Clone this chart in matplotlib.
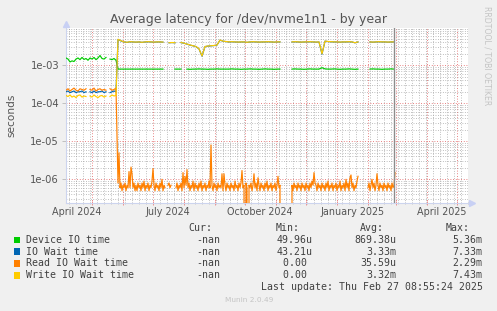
import numpy as np
import matplotlib
matplotlib.use('Agg')
import matplotlib.pyplot as plt
import matplotlib.dates as mdates
from matplotlib.patches import Rectangle
from matplotlib.ticker import FixedLocator, FixedFormatter, NullFormatter
import matplotlib.transforms as mtransforms

nan = np.nan
W, H = 497, 311

# ---------------- data ----------------
base_date = np.datetime64('2024-04-01')
view_start_day = 4      # Apr 5 2024
view_end_day = 406      # May 12 2025
now_day = 332           # Feb 27 2025

# early period: every 2 days starting at day 4
early_start_day, early_step = 4, 2
device_early_ms = [1.55, 1.45, 1.22, 1.3, 1.25, 1.45, 1.55, 1.4, 1.6, 1.42, 1.5, 1.35, 1.55,
                   1.45, 1.6, 1.4, 1.55, 1.8, 1.5, 1.45, 1.6, nan, 1.45, 1.4, 1.5, 1.35]
iowait_early_ms = [0.20, 0.21, 0.19, 0.20, 0.21, 0.19, 0.20, 0.20, 0.21, 0.19, 0.20, nan, 0.20,
                   0.19, 0.21, 0.19, 0.20, 0.20, 0.21, 0.19, 0.20, nan, 0.19, 0.20, 0.21, 0.20]
read_early_ms = [0.22, 0.24, 0.21, 0.23, 0.25, 0.22, 0.21, 0.24, 0.23, 0.22, 0.24, nan, 0.23,
                 0.22, 0.25, 0.21, 0.23, 0.24, 0.22, 0.23, 0.22, nan, 0.24, 0.22, 0.23, 0.25]
write_early_ms = [0.16, 0.15, 0.165, 0.145, 0.155, 0.14, 0.16, 0.165, 0.145, 0.155, 0.15, nan, 0.155,
                  0.145, 0.165, 0.15, 0.14, 0.155, 0.16, 0.145, 0.155, nan, 0.15, 0.165, 0.155, 0.16]

# late period: every 3 days starting at day 56
late_start_day, late_step = 56, 3
write_late_ms = [4.8, 4.4, 4.1, 4.0, 4.15, 4.1, 4.05, 4.1, 4.0, 4.1, 4.15, 4.1, 4.05, 4.1, 4.1, 4.05,
                 nan, 3.9, 3.95, 3.9, nan,
                 3.95, 3.8, 3.6, 3.4, 3.25, 3.1, 2.7, 1.75, 3.1, 3.2, 3.25, 3.3, 3.4, 4.6, 4.3, 4.2,
                 4.1, 4.15, 4.1, 4.05, 4.1, 4.1, 4.0, 4.1, 4.15, 4.1, 4.05, 4.1, 4.1, 4.15, 4.1, 4.05, 4.1, 4.1,
                 nan, nan, nan,
                 4.1, 4.15, 4.1, 4.05, 4.1, 4.1, 4.15, 4.1, 4.05, 4.1, 2.0, 4.3,
                 4.2, 4.15, 4.1, 4.1, 4.05, 4.1, 4.1, 4.15, 4.1, 3.9, 4.1,
                 nan, nan, nan,
                 4.1, 4.05, 4.1, 4.15, 4.1, 4.1, 4.05, 4.1, 4.1]
iowait_late_ms = [4.75, 4.35, 4.08, 3.98, 4.12, 4.08, 4.03, 4.08, 3.98, 4.08, 4.12, 4.08, 4.03, 4.08, 4.08, 4.03,
                  nan, 3.88, 3.93, 3.88, nan,
                  3.93, 3.78, 3.58, 3.38, 3.23, 3.08, 2.68, 1.73, 3.08, 3.18, 3.23, 3.28, 3.38, 4.55, 4.28, 4.18,
                  4.08, 4.12, 4.08, 4.03, 4.08, 4.08, 3.98, 4.08, 4.12, 4.08, 4.03, 4.08, 4.08, 4.12, 4.08, 4.03, 4.08, 4.08,
                  nan, nan, nan,
                  4.08, 4.12, 4.08, 4.03, 4.08, 4.08, 4.12, 4.08, 4.03, 4.08, 1.95, 4.28,
                  4.18, 4.12, 4.08, 4.08, 4.03, 4.08, 4.08, 4.12, 4.08, 3.88, 4.08,
                  nan, nan, nan,
                  4.08, 4.03, 4.08, 4.12, 4.08, 4.08, 4.03, 4.08, 4.08]
device_late_ms = [0.79, 0.79, 0.79, 0.79, 0.79, 0.79, 0.79, 0.79, 0.79, 0.79, 0.79, 0.79, 0.79, 0.79, 0.79, 0.79,
                  nan, nan, nan, 0.79, 0.79,
                  0.79, nan, 0.79, 0.78, 0.79, 0.79, 0.80, 0.79, 0.79, 0.78, 0.79, 0.79, 0.80, 0.79, 0.79, 0.79,
                  0.79, 0.80, 0.79, 0.79, 0.78, 0.79, 0.79, 0.80, 0.79, 0.79, 0.78, 0.79, 0.80, 0.79, 0.79, 0.78, 0.79, 0.79,
                  nan, nan, nan,
                  0.79, 0.80, 0.79, 0.79, 0.78, 0.79, 0.80, 0.79, 0.79, 0.79, 0.86, 0.80,
                  0.79, 0.79, 0.80, 0.79, 0.78, 0.79, 0.79, 0.80, 0.79, 0.78, 0.79,
                  nan, nan, nan,
                  0.79, 0.80, 0.79, 0.79, 0.78, 0.79, 0.79, 0.80, 0.79]

# read wait after the drop: daily values from day 56, in units of 1e-7 s
read_late_start_day = 56
read_late_e7 = [8, 50,
    6, 8, 5, 7, 6, 8, 5, 7, 6, 16,
    6, 21, 14, 6, 8, 5, 7, 5, 8, 6,
    7, 5, 8, 6, 9, 5, 7, 6, 8, 5,
    7, 6, 9, 19, 7, 5, 8, 6, 7, 5,
    8, 6, 10, 5, 7, 6, nan, nan, 7, 8,
    6, 7, nan, nan, nan, nan, 6, 8, 5, 7,
    6, 8, 5, 15, 6, 12, 7, 18, 6, 8,
    5, 7, 6, 9, 5, 8, 6, 7, 5, 8,
    6, 9, 5, 7, 6, 8, 5, 7, 6, 9,
    6, 80, 7, 5, 8, 6, 7, 5, 8, 6,
    7, 6, 14, 5, 14, 7, 5, 8, 6, 7,
    5, 8, 6, 7, 5, 9, 6, 7, 5, 8,
    6, 8, 17, 6, 7, 0, 8, 6, 0, 7,
    6, 8, 5, 7, 14, 6, 8, 5, 11, 7,
    5, 8, 6, 7, 5, 8, 6, 9, 5, 7,
    6, 8, 5, 7, 6, 8, 5, 7, 12, 6,
    7, 0, nan, nan, nan, nan, nan, nan, nan, nan, nan, 0,
    7, 5, 8, 6, 7, 5, 8, 6, 7, 5,
    8, 6, 7, 5, 8, 6, 7, 5, 8, 6,
    9, 7, 15, 8, 7, 5, 8, 6, 7, 5,
    8, 6, 7, 5, 8, 6, 9, 5, 7, 6,
    8, 5, 7, 6, 8, 5, 7, 6, 9, 5,
    7, 6, 8, 5, 10, 6, 8, 5, 11, 13,
    6, 8, 5, 7, 6, 9, 12,
    nan, nan, nan, nan, nan, nan, nan, nan, nan,
    6, 8, 5, 7, 10, 6, 8, 5, 7, 14,
    7, 5, 8, 6, 7, 5, 8, 6, 7, 5,
    8, 6, 7, 5, 8, 6, 7, 15]

series_names = ['Device IO time', 'IO Wait time', 'Read IO Wait time', 'Write IO Wait time']
series_colors = ['#00CC00', '#0066B3', '#FF8000', '#FFCC00']
cur_values = ['-nan', '-nan', '-nan', '-nan']
min_values = ['49.96u', '43.21u', '0.00 ', '0.00 ']
avg_values = ['869.38u', '3.33m', '35.59u', '3.32m']
max_values = ['5.36m', '7.33m', '2.29m', '7.43m']

x_label_texts = ['April 2024', 'July 2024', 'October 2024', 'January 2025', 'April 2025']
x_label_dates = ['2024-04-16', '2024-07-16', '2024-10-16', '2025-01-16', '2025-04-16']
y_tick_values = [1e-6, 1e-5, 1e-4, 1e-3]
y_tick_labels = ['1e-06', '1e-05', '1e-04', '1e-03']

title = 'Average latency for /dev/nvme1n1 - by year'
last_update = 'Last update: Thu Feb 27 08:55:24 2025'

# ---------------- figure ----------------
fig = plt.figure(figsize=(W / 100, H / 100), dpi=100, facecolor='#F0F0F0')


def fx(px):
    return px / W


def fy(py):
    return 1 - py / H


L, R, T, B = 66, 468, 27.5, 203
ax = fig.add_axes([fx(L), fy(B), (R - L) / W, (B - T) / H])
ax.set_facecolor('white')


def days(start, n, step):
    return base_date + (start + np.arange(n) * step).astype('timedelta64[D]')


x_early = days(early_start_day, len(device_early_ms), early_step)
x_late = days(late_start_day, len(write_late_ms), late_step)
x_read_late = days(read_late_start_day, len(read_late_e7), 1)

x_join = np.concatenate([x_early, x_late])
dev = np.concatenate([device_early_ms, device_late_ms]) * 1e-3
iow = np.concatenate([iowait_early_ms, iowait_late_ms]) * 1e-3
wr = np.concatenate([write_early_ms, write_late_ms]) * 1e-3
x_read = np.concatenate([x_early, x_read_late])
rd = np.concatenate([np.array(read_early_ms) * 1e-3, np.array(read_late_e7, dtype=float) * 1e-7])

lw = 0.85
ax.plot(x_join, dev, color=series_colors[0], lw=lw, zorder=3)
ax.plot(x_join, iow, color=series_colors[1], lw=lw, zorder=4)
ax.plot(x_read, rd, color=series_colors[2], lw=lw, zorder=5)
ax.plot(x_join, wr, color=series_colors[3], lw=lw, zorder=6)

ax.set_yscale('log', nonpositive='clip')
ax.set_ylim(2.38e-7, 9.8e-3)
ax.set_xlim(base_date + np.timedelta64(view_start_day, 'D'),
            base_date + np.timedelta64(view_end_day, 'D'))

# grid
red = (0.88, 0.35, 0.35, 0.45)
gray = (0.6, 0.6, 0.6, 0.32)
dot = (0, (1, 2.2))
ax.yaxis.set_major_locator(FixedLocator(y_tick_values))
ax.yaxis.set_major_formatter(FixedFormatter(y_tick_labels))
minor_y = [m * 10.0 ** e for e in range(-7, -1) for m in range(2, 10)]
ax.yaxis.set_minor_locator(FixedLocator(minor_y))
ax.yaxis.set_minor_formatter(NullFormatter())
ax.xaxis.set_major_locator(mdates.MonthLocator())
ax.xaxis.set_minor_locator(mdates.WeekdayLocator(byweekday=mdates.MO))
ax.xaxis.set_major_formatter(NullFormatter())
ax.xaxis.set_minor_formatter(NullFormatter())
ax.grid(which='minor', color=gray, ls=dot, lw=0.55)
ax.grid(which='major', color=red, ls=dot, lw=0.6)
ax.set_axisbelow(True)

ax.tick_params(axis='y', which='major', length=3, width=0.6, color='#B8B8B8', labelsize=7.2,
               labelcolor='#555555', pad=2)
ax.tick_params(axis='y', which='minor', length=0)
ax.tick_params(axis='x', which='major', length=3, width=0.6, color=(0.92, 0.5, 0.5), direction='inout')
ax.tick_params(axis='x', which='minor', length=2, width=0.6, color='#C0C0C0', direction='inout')
for s in ['top', 'right']:
    ax.spines[s].set_visible(False)
for s in ['left', 'bottom']:
    ax.spines[s].set_color('#CCD4EE')
    ax.spines[s].set_linewidth(0.8)

# now marker
ax.axvline(base_date + np.timedelta64(now_day, 'D'), color='#8C8C8C', lw=1.0, zorder=7)

# axis arrows
ax.plot([0], [1 + 3.5 / (B - T)], marker='^', ms=4.5, color='#C8D0F4', transform=ax.transAxes,
        clip_on=False)
ax.plot([1 + 3.5 / (R - L)], [0], marker='>', ms=4.5, color='#C8D0F4', transform=ax.transAxes,
        clip_on=False)

# x labels
xt = mtransforms.blended_transform_factory(ax.transData, fig.transFigure)
for txt, d in zip(x_label_texts, x_label_dates):
    ax.text(np.datetime64(d), fy(212.3), txt, transform=xt, ha='center', va='center',
            fontsize=6.9, color='#555555', clip_on=False)

# title, labels
fig.text(fx(248), fy(19.5), title, ha='center', va='center', fontsize=9, color='#555555')
fig.text(fx(11), fy(115), 'seconds', ha='center', va='center', rotation=90, fontsize=7.6,
         color='#555555')
fig.text(fx(487.5), fy(56), 'RRDTOOL / TOBI OETIKER', ha='center', va='center', rotation=270,
         fontsize=5.6, color='#C4C4C4')

# legend
mono = 'DejaVu Sans Mono'
fs = 7.1
tc = '#404040'
fig.text(fx(212.7), fy(227.8), 'Cur:', ha='right', va='center', family=mono, fontsize=fs, color=tc)
fig.text(fx(299.3), fy(227.8), 'Min:', ha='right', va='center', family=mono, fontsize=fs, color=tc)
fig.text(fx(384.3), fy(227.8), 'Avg:', ha='right', va='center', family=mono, fontsize=fs, color=tc)
fig.text(fx(470), fy(227.8), 'Max:', ha='right', va='center', family=mono, fontsize=fs, color=tc)
row_y = [240, 251.7, 263.3, 275.3]
for i, name in enumerate(series_names):
    y = row_y[i]
    fig.patches.append(Rectangle((fx(13.5), fy(y + 3.2)), 6.5 / W, 6.5 / H, transform=fig.transFigure,
                                 facecolor=series_colors[i], edgecolor='none'))
    fig.text(fx(26.3), fy(y), name, ha='left', va='center', family=mono, fontsize=fs, color=tc)
    fig.text(fx(220), fy(y), cur_values[i], ha='right', va='center', family=mono, fontsize=fs, color=tc)
    fig.text(fx(312.7), fy(y), min_values[i], ha='right', va='center', family=mono, fontsize=fs, color=tc)
    fig.text(fx(396.7), fy(y), avg_values[i], ha='right', va='center', family=mono, fontsize=fs, color=tc)
    fig.text(fx(482.7), fy(y), max_values[i], ha='right', va='center', family=mono, fontsize=fs, color=tc)
fig.text(fx(482.7), fy(287.5), last_update, ha='right', va='center', family=mono, fontsize=fs, color=tc)
fig.text(fx(248.8), fy(300), 'Munin 2.0.49', ha='center', va='center', fontsize=5.3, color='#C4C4C4')

fig.savefig('out.png', dpi=100, facecolor=fig.get_facecolor())
